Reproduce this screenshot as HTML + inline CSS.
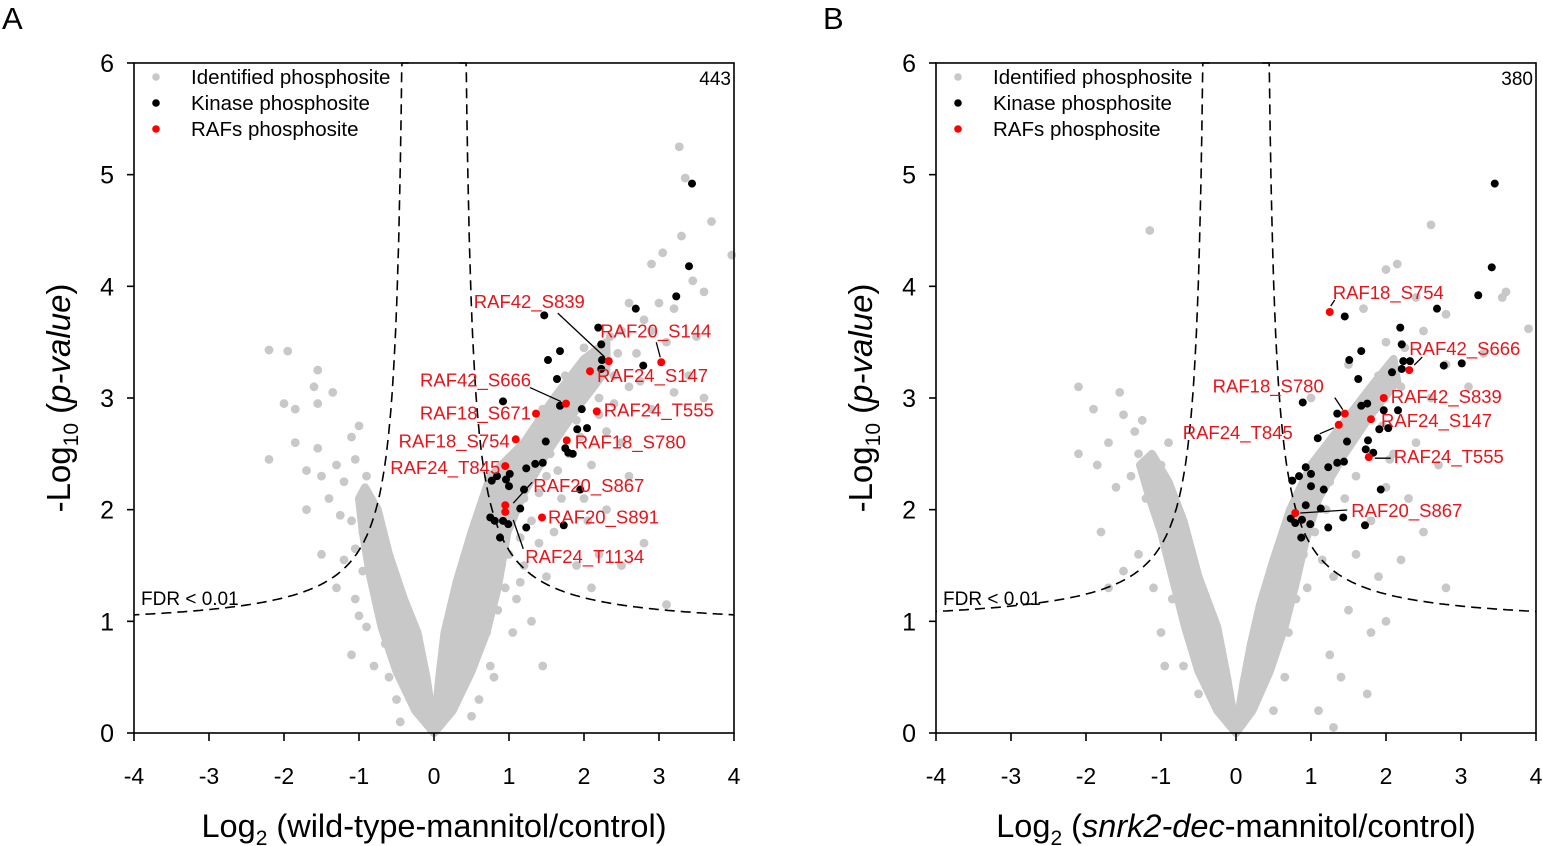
<!DOCTYPE html>
<html><head><meta charset="utf-8"><style>
html,body{margin:0;padding:0;background:#fff;}
svg{display:block;font-family:"Liberation Sans",Arial,sans-serif;}
</style></head><body>
<svg id="fig" width="1543" height="846" viewBox="0 0 1543 846"></svg>
<script>
// ---------- Panel A data (log2 FC, -log10 p) ----------
const aGrayPts = [[3.27,5.25],[3.35,4.97],[3.7,4.58],[3.97,4.28],[3.05,4.3],[3.3,4.45],[3.45,4.05],[3.6,3.95],[3.0,3.85],[3.2,3.8],[2.8,3.7],[2.6,3.85],[2.9,3.6],[3.5,3.55],[2.5,3.6],[2.7,3.4],[3.1,3.5],[2.4,3.2],[2.2,3.0],[3.4,3.2],[2.6,3.1],[2.0,3.1],[1.9,2.8],[2.3,2.7],[1.8,2.5],[2.5,2.6],[2.9,2.9],[2.1,2.4],[2.6,2.3],[1.5,2.3],[1.7,2.1],[2.0,2.1],[2.3,2.0],[1.6,1.8],[2.8,1.7],[2.2,1.6],[1.4,1.7],[1.9,1.5],[2.5,1.5],[1.5,1.4],[1.2,1.5],[3.1,1.15],[2.1,1.3],[1.45,0.6],[1.1,1.2],[1.3,1.0],[3.6,3.0],[2.9,4.2],[1.2,2.1],[1.3,1.9],[0.9,1.5],[1.05,0.9],[0.8,0.5],
[2.35,3.55],[2.45,3.4],[2.1,3.3],[2.0,3.45],[1.85,3.0],[1.75,3.2],[1.6,2.7],[1.45,2.9],[1.55,2.5],[1.35,2.6],[1.25,2.3],[1.4,2.15],[1.1,2.4],[1.05,2.0],[1.15,1.75],[1.0,1.6],[0.95,1.3],[1.15,1.35],[0.85,1.1],[0.7,0.9],[0.75,0.6],[0.6,0.3],[0.5,0.15],[2.75,3.15],[2.2,2.85],[2.4,2.95],[1.95,2.65],[1.65,2.35],[3.2,3.05],[2.05,1.9],
[-2.2,3.43],[-1.95,3.42],[-1.55,3.25],[-1.6,3.1],[-1.35,3.05],[-2.0,2.95],[-1.55,2.95],[-1.85,2.9],[-1.1,2.65],[-1.0,2.75],[-1.85,2.6],[-1.55,2.55],[-2.2,2.45],[-1.3,2.4],[-1.7,2.35],[-1.5,2.3],[-1.2,2.25],[-1.05,2.45],[-0.9,2.3],[-1.4,2.1],[-1.7,2.0],[-1.25,1.95],[-1.1,1.9],[-0.95,1.8],[-1.5,1.6],[-1.2,1.55],[-1.3,1.3],[-1.05,1.2],[-0.9,0.95],[-1.1,0.7],[-0.6,0.5],[-1.0,1.05],[-0.85,1.5],[-0.8,0.6],[-0.75,1.2],[-0.65,0.8],[-0.5,0.3],[-0.45,0.1],[-0.95,1.45],[-1.05,1.65]];
const aLeftArm = [[0,0],[-0.25,0.2],[-0.5,0.55],[-0.7,0.95],[-0.85,1.4],[-0.95,1.8],[-1.0,2.1],[-0.92,2.2],[-0.75,2.0],[-0.6,1.6],[-0.4,1.2],[-0.22,0.9],[-0.1,0.5],[-0.02,0.15]];
const aRightArm = [[0,0],[0.25,0.2],[0.5,0.55],[0.7,0.9],[0.85,1.3],[0.98,1.8],[1.2,2.15],[1.5,2.5],[1.9,2.9],[2.3,3.25],[2.3,3.5],[2.0,3.35],[1.6,3.0],[1.2,2.6],[0.75,2.3],[0.5,1.8],[0.3,1.35],[0.14,0.9],[0.07,0.5],[0.02,0.15]];
const aKinasePts = [[3.44,4.92],[3.40,4.18],[3.23,3.91],[2.69,3.80],[1.47,3.74],[2.19,3.63],[2.23,3.48],[1.68,3.42],[1.52,3.34],[2.24,3.34],[2.79,3.29],[2.23,3.26],[1.64,3.17],[0.92,2.97],[1.68,2.93],[1.97,2.90],[1.91,2.72],[2.04,2.73],[1.49,2.61],[1.75,2.55],[1.79,2.51],[1.85,2.50],[1.23,2.37],[1.35,2.41],[1.45,2.42],[0.77,2.26],[0.84,2.30],[0.96,2.27],[1.01,2.32],[1.00,2.21],[1.20,2.18],[1.95,2.18],[1.15,2.01],[0.75,1.93],[0.81,1.90],[0.92,1.90],[0.99,1.87],[1.23,1.84],[1.73,1.86],[0.88,1.75]];
const aRafNames = ["RAF20_S144","RAF42_S839","RAF24_S147","RAF42_S666","RAF18_S671","RAF24_T555","RAF18_S754","RAF18_S780","RAF24_T845","RAF20_S867","RAF24_T1134","RAF20_S891"];
const aRafX = [3.03,2.33,2.08,1.76,1.36,2.17,1.09,1.77,0.95,0.95,0.95,1.44];
const aRafY = [3.32,3.33,3.24,2.95,2.86,2.88,2.63,2.62,2.39,2.04,1.98,1.93];
const aCount = "443";

// ---------- Panel B data ----------
const bGrayPts = [[2.6,4.55],[2.0,4.15],[2.15,4.2],[3.9,3.62],[3.6,3.95],[2.8,3.75],[2.5,3.6],[3.3,3.4],[1.7,3.8],[2.0,3.5],[2.8,3.3],[3.1,3.1],[2.2,3.1],[2.6,3.0],[1.9,3.2],[1.5,3.3],[1.0,3.0],[2.4,2.6],[2.1,2.5],[2.7,2.4],[2.0,2.2],[2.3,2.1],[1.8,1.9],[2.5,1.8],[1.6,1.6],[2.2,1.55],[1.9,1.4],[1.3,1.4],[2.0,1.0],[1.5,1.1],[1.75,0.35],[1.25,0.7],[1.1,0.2],[1.3,0.05],[1.8,0.9],[2.8,1.3],[1.4,0.5],[1.2,2.0],[0.95,1.3],[3.55,3.9],[2.4,3.9],
[2.25,3.45],[2.1,3.3],[1.85,3.05],[1.7,2.8],[1.55,2.65],[1.35,2.5],[1.25,2.25],[1.1,2.1],[1.05,1.8],[0.9,1.6],[1.15,1.55],[0.8,1.2],[0.7,0.9],[0.65,0.5],[0.5,0.2],[1.95,2.75],[1.6,2.3],[1.45,2.1],[2.05,2.45],
[-1.15,4.5],[-2.1,3.1],[-1.9,2.9],[-1.5,2.85],[-1.7,2.6],[-2.1,2.5],[-1.3,2.5],[-1.85,2.4],[-1.4,2.3],[-1.6,2.2],[-1.0,2.4],[-1.2,2.1],[-0.9,2.6],[-1.8,1.8],[-1.3,1.6],[-1.5,1.45],[-1.1,1.3],[-0.85,1.2],[-1.7,1.3],[-1.0,0.9],[-0.7,0.6],[-1.25,2.8],[-1.55,3.05],[-0.7,1.8],[-0.8,1.5],[-0.6,0.9],[-0.5,0.35],[-1.0,1.95],[-1.35,2.7],[-0.95,0.6]];
const bLeftArm = [[0,0],[-0.25,0.2],[-0.5,0.55],[-0.68,0.95],[-0.85,1.4],[-1.0,1.8],[-1.15,2.1],[-1.28,2.4],[-1.12,2.5],[-0.9,2.25],[-0.7,1.9],[-0.5,1.4],[-0.25,0.95],[-0.12,0.5],[-0.03,0.15]];
const bRightArm = [[0,0],[0.22,0.2],[0.45,0.55],[0.65,0.95],[0.8,1.35],[0.92,1.7],[1.1,2.1],[1.45,2.5],[1.8,2.85],[2.15,3.15],[2.1,3.35],[1.8,3.1],[1.4,2.75],[1.0,2.4],[0.72,2.0],[0.5,1.55],[0.32,1.15],[0.2,0.8],[0.1,0.45],[0.03,0.15]];
const bKinasePts = [[3.45,4.92],[3.41,4.17],[3.23,3.92],[2.68,3.80],[1.45,3.73],[2.19,3.63],[2.21,3.48],[1.67,3.42],[1.51,3.34],[2.23,3.33],[2.32,3.33],[2.77,3.29],[3.01,3.31],[2.08,3.23],[2.21,3.26],[1.63,3.17],[0.89,2.96],[1.67,2.93],[1.75,2.95],[1.97,2.89],[2.16,2.89],[1.35,2.86],[1.91,2.72],[2.03,2.73],[1.09,2.64],[1.48,2.61],[1.76,2.62],[1.73,2.54],[1.83,2.51],[1.23,2.38],[1.35,2.42],[1.44,2.43],[0.93,2.38],[0.84,2.30],[0.75,2.26],[1.00,2.32],[1.00,2.21],[1.17,2.18],[1.93,2.18],[0.93,2.04],[1.13,2.01],[0.73,1.92],[0.88,1.91],[0.99,1.87],[1.43,1.93],[0.79,1.88],[1.23,1.84],[1.72,1.86],[0.87,1.75]];
const bRafNames = ["RAF18_S754","RAF42_S666","RAF42_S839","RAF24_S147","RAF18_S780","RAF24_T845","RAF24_T555","RAF20_S867"];
const bRafX = [1.25,2.31,1.97,1.80,1.45,1.37,1.77,0.79];
const bRafY = [3.77,3.25,3.00,2.81,2.86,2.76,2.47,1.97];
const bCount = "380";

const xTicks = [-4,-3,-2,-1,0,1,2,3,4];
const yTicks = [0,1,2,3,4,5,6];

const NS = "http://www.w3.org/2000/svg";
const svg = document.getElementById('fig');
function mk(tag, attrs, parent, text){
  const e = document.createElementNS(NS, tag);
  for (const k in attrs) e.setAttribute(k, attrs[k]);
  if (text !== undefined) e.textContent = text;
  (parent||svg).appendChild(e);
  return e;
}

const aLabelLayout = [
  [-61,-25,'start',[-5,-20,-1,-5]],
  [-135,-53,'start',[-51,-48,-4,-4]],
  [7,11,'start',null],
  [-146,-17,'start',[-36,-16,-5,-2]],
  [-5,6,'end',null],
  [7,5,'start',null],
  [-6,8,'end',null],
  [8,8,'start',null],
  [-5,8,'end',null],
  [28,-13,'start',[27,-23,8,-2]],
  [20,51,'start',[8,8,18,37]],
  [6,6,'start',null]
];
const bLabelLayout = [
  [3,-13,'start',[1,-6,5,-12]],
  [0,-15,'start',[5,-5,13,-13]],
  [7,5,'start',null],
  [10,8,'start',null],
  [-21,-21,'end',[-10,-16,-2,-4]],
  [-46,14,'end',[-19,9,-5,3]],
  [25,6,'start',[6,1,22,1]],
  [56,4,'start',[5,0,52,-3]]
];

function panel(cfg){
  const x0 = cfg.zeroX, sx = 75, y0 = 733, sy = 111.67;
  const X = v => x0 + v*sx, Y = v => y0 - v*sy;
  const g = mk('g', {}, svg);
  
  
  const L = X(-4), R = X(4), T = Y(6);

  [cfg.left, cfg.right].forEach((arm, i) => {
    const p = mk('polygon', {points: arm.map(d => X(d[0])+','+Y(d[1])).join(' '), fill:'#c8c8c8', stroke:'#c8c8c8','stroke-width':8,'stroke-linejoin':'round'}, g);
    
    
  });
  cfg.gray.forEach(d => {
    const c = mk('circle', {cx:X(d[0]), cy:Y(d[1]), r:4.4, fill:'#c8c8c8'}, g);
    
    
  });

  let pr = '', pl = '';
  for (let i = 0; i <= 240; i++) {
    const t = cfg.asym + 0.0001 + Math.pow(i/240, 2.4)*(4 - cfg.asym);
    const yv = Math.min(6, cfg.base + cfg.s/(t - cfg.asym));
    pr += (pr ? 'L' : 'M') + X(t).toFixed(1) + ',' + Y(yv).toFixed(1);
    pl += (pl ? 'L' : 'M') + X(-t).toFixed(1) + ',' + Y(yv).toFixed(1);
  }
  [pl, pr].forEach((d, i) => {
    const p = mk('path', {d:d, fill:'none', stroke:'#000', 'stroke-width':1.6, 'stroke-dasharray':'10,6'}, g);
    
    
  });
  const fdr = mk('text', {x:L+7, y:605, 'font-size':19}, g, 'FDR < 0.01');
  
  

  cfg.kin.forEach(d => {
    const c = mk('circle', {cx:X(d[0]), cy:Y(d[1]), r:4, fill:'#000'}, g);
    
    
  });
  cfg.rafX.forEach((xv, i) => {
    const px = X(xv), py = Y(cfg.rafY[i]);
    const lay = cfg.layout[i];
    if (lay[3]) {
      const ln = mk('line', {x1:px+lay[3][0], y1:py+lay[3][1], x2:px+lay[3][2], y2:py+lay[3][3], stroke:'#000','stroke-width':1.3}, g);
      
      
    }
    const c = mk('circle', {cx:px, cy:py, r:4, fill:'#ff0000'}, g);
    
    
    const t = mk('text', {x:px+lay[0], y:py+lay[1], 'font-size':18.5, fill:'#e8141a', 'text-anchor':lay[2]}, g, cfg.rafNames[i]);
    
    
  });

  const fr = mk('rect', {x:L, y:T, width:R-L, height:y0-T, fill:'none', stroke:'#000', 'stroke-width':1.6}, g);
  
  

  xTicks.forEach(v => {
    const tk = mk('line', {x1:X(v), y1:y0, x2:X(v), y2:y0+8, stroke:'#000','stroke-width':1.6}, g);
    
    
    const tl = mk('text', {x:X(v), y:y0+51, 'font-size':23, 'text-anchor':'middle'}, g, String(v));
    
    
  });
  yTicks.forEach(v => {
    const tk = mk('line', {x1:L-7, y1:Y(v), x2:L, y2:Y(v), stroke:'#000','stroke-width':1.6}, g);
    
    
    const tl = mk('text', {x:L-20, y:Y(v)+9, 'font-size':25, 'text-anchor':'end'}, g, String(v));
    
    
  });

  const leg = [['#c8c8c8','Identified phosphosite'],['#000','Kinase phosphosite'],['#ff0000','RAFs phosphosite']];
  leg.forEach((e, i) => {
    const c = mk('circle', {cx:L+22, cy:77+i*26, r:3.8, fill:e[0]}, g);
    
    
    const t = mk('text', {x:L+57, y:84+i*26, 'font-size':20.5}, g, e[1]);
    
    
  });
  const cnt = mk('text', {x:R-3, y:85, 'font-size':19, 'text-anchor':'end'}, g, cfg.count);
  
  

  const letter = mk('text', {x:cfg.letterX, y:29, 'font-size':31}, g, cfg.letter);
  
  

  const yt = mk('text', {transform:'translate('+(L-64)+',398) rotate(-90)', 'font-size':33, 'text-anchor':'middle'}, g);
  
  
  mk('tspan', {}, yt, '-Log');
  mk('tspan', {'font-size':21, dy:8}, yt, '10');
  mk('tspan', {dy:-8}, yt, ' (');
  mk('tspan', {'font-style':'italic'}, yt, 'p-value');
  mk('tspan', {}, yt, ')');

  const xt = mk('text', {x:x0, y:837, 'font-size':32.5, 'text-anchor':'middle'}, g);
  
  
  mk('tspan', {}, xt, 'Log');
  mk('tspan', {'font-size':21, dy:8}, xt, '2');
  mk('tspan', {dy:-8}, xt, ' (');
  cfg.xtitle.forEach(p => mk('tspan', p[1] ? {'font-style':'italic'} : {}, xt, p[0]));
}

panel({id:'a', zeroX:434, left:aLeftArm, right:aRightArm, gray:aGrayPts, kin:aKinasePts, rafX:aRafX, rafY:aRafY, rafNames:aRafNames, layout:aLabelLayout, count:aCount, letter:'A', letterX:2, asym:0.337, base:0.93, s:0.468, xtitle:[['wild-type-mannitol/control)',false]]});
panel({id:'b', zeroX:1236, left:bLeftArm, right:bRightArm, gray:bGrayPts, kin:bKinasePts, rafX:bRafX, rafY:bRafY, rafNames:bRafNames, layout:bLabelLayout, count:bCount, letter:'B', letterX:823, asym:0.35, base:0.96, s:0.468, xtitle:[['snrk2-dec',true],['-mannitol/control)',false]]});
</script>
</body></html>
